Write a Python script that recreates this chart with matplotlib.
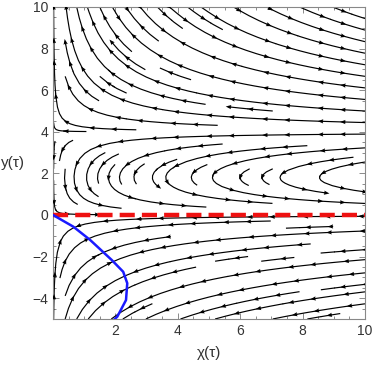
import numpy as np
import matplotlib
matplotlib.use("Agg")
import matplotlib.pyplot as plt
from matplotlib.ticker import MultipleLocator

plt.rcParams['font.family'] = ['Liberation Sans', 'DejaVu Sans']

# ---- data ----
x_range = [0.0, 10.0]
y_range = [-5.0, 10.0]
x_ticks = [2, 4, 6, 8, 10]
y_ticks = [-4, -2, 0, 2, 4, 6, 8, 10]

# blue boundary curve (chi, y)
blue_x = [0.0, 0.65, 1.19, 1.88, 2.25, 2.38, 2.34, 2.06, 1.98]
blue_y = [0.0, -0.56, -1.20, -2.16, -2.73, -3.28, -4.09, -4.89, -5.0]

# red dashed line level
red_level = 0.0

# field shape parameters (streamline family H = x^p * y(4-y) e^{-k y})
p_exp = 0.9
k_exp = 0.1
y_top = 4.0
# upper line where arrow direction reverses: y = a + b*x
flip_a, flip_b = 10.3, -0.41

fig = plt.figure(figsize=(3.74, 3.65), dpi=100)
ax = fig.add_axes([53/374, 1-319/365, (365-53)/374, (319-7)/365])
sx = (365-53)/10.0   # px per x unit
sy = (319-7)/15.0    # px per y unit

xs = np.linspace(0.02, 10, 300)
ys = np.linspace(-5, 10, 400)
X, Y = np.meshgrid(xs, ys)
B = Y*(y_top-Y)*np.exp(-k_exp*Y)
dB = np.exp(-k_exp*Y)*((y_top-2*Y) - k_exp*Y*(y_top-Y))
U = X**p_exp * dB
V = -p_exp * X**(p_exp-1) * B

res = ax.streamplot(X, Y, U, V, density=0.95, color='k', linewidth=0.85,
                    arrowstyle='-', minlength=0.08)

# arrowheads placed along each streamline every ~28 px
spacing = 28.0
pts, vecs = [], []
for tr in res.lines.get_segments():
    tr = np.asarray(tr)
    if len(tr) < 2:
        continue
    px = np.column_stack([tr[:, 0]*sx, tr[:, 1]*sy])
    dl = np.hypot(*np.diff(px, axis=0).T)
    L = np.concatenate([[0], np.cumsum(dl)])
    if L[-1] < 10:
        continue
    for t in np.arange(min(14.0, L[-1]/2), L[-1], spacing):
        j = min(np.searchsorted(L, t), len(tr)-1)
        j = max(j, 1)
        mx, my = tr[j]
        d = (px[j] - px[j-1])
        n = np.hypot(*d)
        if n == 0:
            continue
        d = d/n
        s = 1.0
        if my < 0 and mx > np.interp(my, blue_y[::-1], blue_x[::-1]):
            s = -1.0
        if my > flip_a + flip_b*mx:
            s = -1.0
        pts.append((mx, my))
        vecs.append((s*d[0]/sx, s*d[1]/sy))
pts = np.array(pts); vecs = np.array(vecs)
vn = vecs/np.hypot(vecs[:, 0], vecs[:, 1])[:, None]
ax.quiver(pts[:, 0], pts[:, 1], vn[:, 0], vn[:, 1],
          angles='xy', scale_units='inches', scale=1/0.055, width=0.004,
          headwidth=3.5, headlength=4.5, headaxislength=4, pivot='middle',
          color='k', zorder=3)

ax.plot(x_range, [red_level, red_level], color='#ee1111', lw=3.2,
        dashes=(3.4, 1.6), zorder=4)
ax.plot(blue_x, blue_y, color='#1a1aff', lw=1.8, zorder=5)

ax.set_xlim(*x_range)
ax.set_ylim(*y_range)
ax.set_xticks(x_ticks)
ax.set_yticks(y_ticks)
ax.set_yticklabels([str(t).replace('-', '\u2212') for t in y_ticks])
ax.xaxis.set_minor_locator(MultipleLocator(0.5))
ax.yaxis.set_minor_locator(MultipleLocator(0.5))
ax.tick_params(which='both', direction='in', top=True, right=True,
               color='#777777', width=0.6, labelsize=10, labelcolor='#333333')
ax.tick_params(which='major', length=4)
ax.tick_params(which='minor', length=2)
for sp in ax.spines.values():
    sp.set_color('#888888'); sp.set_linewidth(0.8)
ax.set_xlabel('χ(τ)', fontsize=11, color='#333333', labelpad=6)
ax.set_ylabel('y(τ)', fontsize=11, color='#333333', rotation=0,
              labelpad=14, va='center')
fig.savefig('out.png', dpi=100)
